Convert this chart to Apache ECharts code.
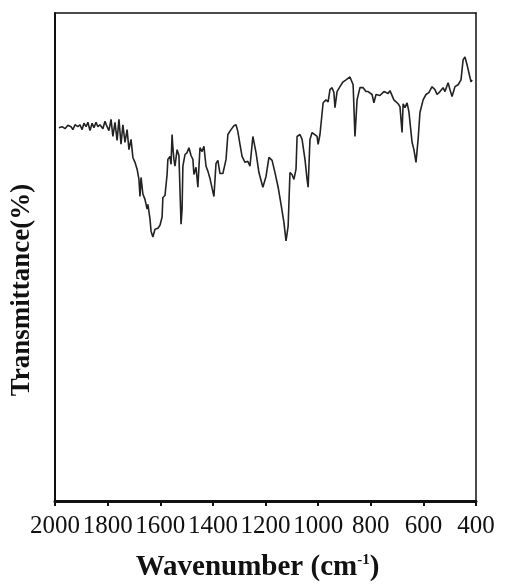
<!DOCTYPE html>
<html>
<head>
<meta charset="utf-8">
<script src="https://cdn.jsdelivr.net/npm/echarts@6/dist/echarts.min.js"></script>
<style>html,body{margin:0;padding:0;background:#fff}#c{width:506px;height:587px}</style>
</head>
<body>
<div id="c"></div>
<script>
// Wavenumber (cm-1) and transmittance (arbitrary %)
var wavenumbers = [1985,1973,1962,1951,1939,1932,1924,1913,1905,1897,1890,1882,1875,1867,1859,1852,1844,1837,1829,1818,1810,1802,1795,1787,1780,1772,1764,1757,1749,1742,1734,1726,1719,1711,1704,1696,1688,1681,1677,1673,1666,1658,1650,1647,1639,1635,1628,1620,1609,1601,1593,1590,1582,1574,1571,1563,1559,1555,1552,1548,1544,1536,1529,1521,1517,1514,1506,1498,1491,1483,1476,1472,1464,1457,1449,1441,1434,1426,1419,1411,1403,1396,1388,1381,1373,1362,1350,1343,1331,1320,1312,1305,1297,1289,1278,1267,1259,1248,1236,1225,1210,1198,1187,1175,1164,1152,1141,1130,1122,1114,1107,1099,1092,1084,1080,1069,1061,1050,1042,1038,1031,1023,1016,1004,1000,993,981,970,962,955,947,940,936,928,917,905,894,879,867,860,852,841,829,818,810,803,795,788,780,765,750,734,727,712,696,689,681,677,670,662,655,643,636,628,620,613,601,590,579,567,556,548,537,525,518,506,499,491,480,468,457,449,442,434,427,419,415];
var transmittance = [76.5,76.7,76.3,77.0,76.7,76.1,77.1,76.7,77.1,76.1,77.4,76.7,77.6,75.9,77.4,76.5,77.6,76.7,77.1,76.3,77.8,76.7,75.9,78.2,74.7,77.6,73.9,78.2,73.1,77.1,73.5,76.1,72.0,74.1,70.4,69.4,68.0,65.9,62.4,66.3,62.9,61.8,59.8,60.8,57.8,55.3,54.1,55.7,55.9,56.5,58.2,62.2,62.6,66.9,70.0,70.6,69.0,75.1,72.4,70.0,68.6,72.0,70.8,56.7,59.8,68.6,71.0,71.4,72.4,70.8,70.0,66.9,68.4,64.3,72.4,71.6,72.7,68.6,67.6,66.1,64.1,62.4,69.2,69.8,67.1,67.1,70.0,75.1,76.1,76.9,77.1,75.7,73.1,70.6,69.4,69.6,68.6,74.7,71.4,67.3,64.3,66.5,70.4,69.8,67.3,64.3,60.8,57.1,53.3,56.3,67.3,66.9,65.9,68.0,74.7,75.1,74.1,70.0,65.9,64.3,74.1,75.5,75.7,74.7,73.1,75.1,81.6,82.2,81.8,84.3,84.7,83.7,80.6,83.9,84.9,85.9,86.3,86.9,85.3,74.7,82.2,84.7,84.7,83.9,83.9,83.7,83.3,81.6,83.3,83.1,83.9,83.5,84.1,82.2,81.4,80.8,75.5,81.4,80.6,81.6,79.8,73.5,72.0,69.4,74.1,79.6,82.2,83.3,83.7,84.9,84.3,83.3,83.9,84.7,83.9,85.7,84.3,82.9,84.9,85.3,86.3,90.4,91.0,89.4,89.0,85.9,86.3];
var xTicks = [2000,1800,1600,1400,1200,1000,800,600,400];

var pts = wavenumbers.map(function(w,i){return [w, transmittance[i]];});
var serif = '"Liberation Serif","Times New Roman",serif';
var chart = echarts.init(document.getElementById('c'));
chart.setOption({
  animation: false,
  grid: {left: 55, right: 30, top: 13, bottom: 84},
  xAxis: [{
    type: 'value', inverse: true, min: 400, max: 2000, interval: 200,
    axisLine: {show: true, onZero: false, lineStyle: {color: '#111', width: 3}},
    axisTick: {show: true, inside: false, length: 5, lineStyle: {color: '#111', width: 2}},
    axisLabel: {color: '#111', fontFamily: serif, fontSize: 25, margin: 13,
      formatter: function(v){return xTicks.indexOf(v) >= 0 ? String(v) : '';}},
    splitLine: {show: false},
    name: 'Wavenumber (cm{sup|-1})', nameLocation: 'middle', nameGap: 52,
    nameTextStyle: {color: '#111', fontFamily: serif, fontWeight: 'bold', fontSize: 29, padding: [0, 16, 0, 0],
      rich: {sup: {fontFamily: serif, fontWeight: 'bold', fontSize: 15, verticalAlign: 'top', padding: [0,0,14,0]}}}
  }, {
    type: 'value', inverse: true, min: 400, max: 2000, position: 'top',
    axisLine: {show: true, onZero: false, lineStyle: {color: '#111', width: 1.5}},
    axisTick: {show: false}, axisLabel: {show: false}, splitLine: {show: false}
  }],
  yAxis: [{
    type: 'value', min: 0, max: 100,
    axisLine: {show: true, onZero: false, lineStyle: {color: '#111', width: 2}},
    axisTick: {show: false}, axisLabel: {show: false}, splitLine: {show: false},
    name: 'Transmittance(%)', nameLocation: 'middle', nameGap: 19,
    nameTextStyle: {color: '#111', fontFamily: serif, fontWeight: 'bold', fontSize: 27, padding: [0, 66, 0, 0]}
  }, {
    type: 'value', min: 0, max: 100, position: 'right',
    axisLine: {show: true, onZero: false, lineStyle: {color: '#111', width: 1.5}},
    axisTick: {show: false}, axisLabel: {show: false}, splitLine: {show: false}
  }],
  series: [{
    type: 'line', data: pts, showSymbol: false, smooth: false,
    lineStyle: {color: '#222', width: 1.6}
  }]
});
</script>
</body>
</html>
